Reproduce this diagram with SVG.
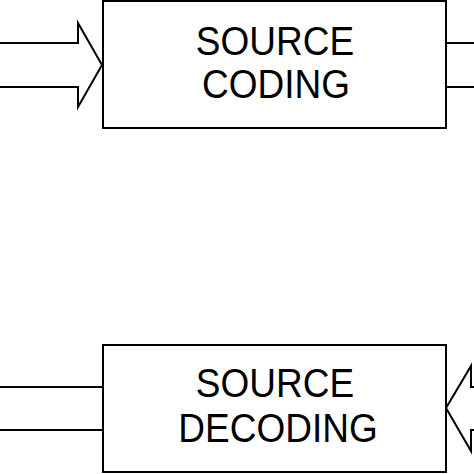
<svg xmlns="http://www.w3.org/2000/svg" width="474" height="474" viewBox="0 0 474 474">
<style>
.box{fill:#fff;stroke:#000;stroke-width:2}
.ln{fill:none;stroke:#000;stroke-width:2;stroke-linejoin:miter}
.lbl{font-family:"Liberation Sans",Arial,sans-serif;font-size:37px;fill:#000;text-anchor:middle}
</style>
<rect width="474" height="474" fill="#fff"/>
<g id="connectors">
<path class="ln" d="M0,43 H78 V23 L102,65 L78,107 V87 H0"/>
<path class="ln" d="M446,43 H474 M446,87 H474"/>
<path class="ln" d="M0,387 H103 M0,430 H103"/>
<path class="ln" d="M474,387 H471 V366 L446,408 L471,451 V430 H474"/>
</g>
<g id="source-coding">
<rect class="box" x="103" y="1" width="343" height="127"/>
<text class="lbl" transform="translate(275,55) scale(1,1.09)">SOURCE</text>
<text class="lbl" transform="translate(276,98) scale(1,1.09)">CODING</text>
</g>
<g id="source-decoding">
<rect class="box" x="103" y="345" width="343" height="127"/>
<text class="lbl" transform="translate(275,397) scale(1,1.09)">SOURCE</text>
<text class="lbl" transform="translate(278,442) scale(1,1.09)">DECODING</text>
</g>
</svg>
